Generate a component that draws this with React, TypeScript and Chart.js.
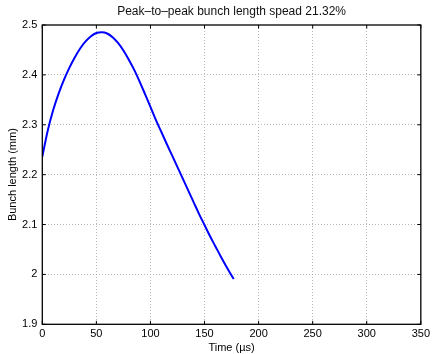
import React, { useEffect, useRef } from "react";
import { Chart, registerables } from "chart.js";

Chart.register(...registerables);

const timeUs = [0, 5, 10, 15, 20, 25, 30, 35, 40, 45, 50, 55, 60, 65, 70, 75, 80, 85, 90, 95, 100, 105, 110, 115, 120, 125, 130, 135, 140, 145, 150, 155, 160, 165, 170, 175, 177];
const bunchLength = [2.236, 2.288, 2.329, 2.362, 2.390, 2.414, 2.435, 2.453, 2.467, 2.4775, 2.484, 2.4855, 2.483, 2.4755, 2.464, 2.449, 2.4305, 2.410, 2.3865, 2.3615, 2.336, 2.310, 2.286, 2.262, 2.2385, 2.215, 2.1915, 2.168, 2.1445, 2.121, 2.099, 2.077, 2.0565, 2.036, 2.0165, 1.998, 1.991];
const xTicks = [0, 50, 100, 150, 200, 250, 300, 350];
const yTicks = [1.9, 2.0, 2.1, 2.2, 2.3, 2.4, 2.5];
const titleText = "Peak\u2013to\u2013peak bunch length spead 21.32%";
const xLabel = "Time (\u00b5s)";
const yLabel = "Bunch length (mm)";

const FONT = "'Liberation Sans', Helvetica, Arial, sans-serif";

const framePlugin = {
  id: "frame",
  afterDraw(chart: any) {
    const { ctx, chartArea } = chart;
    const { left, right, top, bottom } = chartArea;
    const xs = chart.scales.x;
    const ys = chart.scales.y;
    ctx.save();
    ctx.strokeStyle = "#000";
    ctx.lineWidth = 1.3;
    ctx.strokeRect(left, top, right - left, bottom - top);
    ctx.lineWidth = 1;
    const t = 3.5;
    ctx.beginPath();
    xTicks.forEach((v) => {
      const px = xs.getPixelForValue(v);
      ctx.moveTo(px, bottom);
      ctx.lineTo(px, bottom - t);
      ctx.moveTo(px, top);
      ctx.lineTo(px, top + t);
    });
    yTicks.forEach((v) => {
      const py = ys.getPixelForValue(v);
      ctx.moveTo(left, py);
      ctx.lineTo(left + t, py);
      ctx.moveTo(right, py);
      ctx.lineTo(right - t, py);
    });
    ctx.stroke();
    ctx.restore();
  },
};

export default function App() {
  const ref = useRef<HTMLCanvasElement>(null);
  useEffect(() => {
    document.body.style.margin = "0";
    const canvas = ref.current!;
    const data = timeUs.map((t, i) => ({ x: t, y: bunchLength[i] }));
    const chart = new Chart(canvas, {
      type: "line",
      data: {
        datasets: [
          {
            data,
            borderColor: "#0000ff",
            borderWidth: 2,
            pointRadius: 0,
            cubicInterpolationMode: "monotone",
            fill: false,
          },
        ],
      },
      options: {
        animation: false,
        responsive: false,
        maintainAspectRatio: false,
        layout: { padding: { left: 0, right: 10.7, top: 0, bottom: 0 } },
        plugins: {
          legend: { display: false },
          tooltip: { enabled: false },
          title: {
            display: true,
            fullSize: false,
            text: titleText,
            color: "#111",
            font: { family: FONT, size: 12, weight: "normal" as any },
            padding: { top: 4.6, bottom: 6.0 },
          },
        },
        scales: {
          x: {
            type: "linear",
            min: 0,
            max: 350,
            afterBuildTicks: (s: any) => {
              s.ticks = xTicks.map((v) => ({ value: v }));
            },
            afterFit: (s: any) => {
              s.height = 29.7;
            },
            ticks: {
              color: "#000",
              font: { family: FONT, size: 11 },
              padding: 3,
              maxRotation: 0,
              autoSkip: false,
              callback: (v: any) => String(v),
            },
            grid: {
              color: (c: any) => (c.tick && (c.tick.value === 0 || c.tick.value === 350) ? "rgba(0,0,0,0)" : "#b8b8b8"),
              lineWidth: 1,
              drawTicks: false,
            },
            border: { display: false, dash: [1, 2] },
            title: {
              display: true,
              text: xLabel,
              color: "#000",
              font: { family: FONT, size: 11 },
              padding: { top: 0, bottom: -1 },
            },
          },
          y: {
            type: "linear",
            min: 1.9,
            max: 2.5,
            afterBuildTicks: (s: any) => {
              s.ticks = yTicks.map((v) => ({ value: v }));
            },
            afterFit: (s: any) => {
              s.width = 42.3;
            },
            ticks: {
              color: "#000",
              font: { family: FONT, size: 11 },
              padding: 5,
              autoSkip: false,
              callback: (v: any) => {
                const n = Math.round(v * 10) / 10;
                return n === 2 ? "2" : String(n);
              },
            },
            grid: {
              color: (c: any) => (c.tick && (Math.abs(c.tick.value - 1.9) < 1e-6 || Math.abs(c.tick.value - 2.5) < 1e-6) ? "rgba(0,0,0,0)" : "#b8b8b8"),
              lineWidth: 1,
              drawTicks: false,
            },
            border: { display: false, dash: [1, 2] },
            title: {
              display: true,
              text: yLabel,
              color: "#000",
              font: { family: FONT, size: 11 },
              padding: { top: 6, bottom: 0 },
            },
          },
        },
      },
      plugins: [framePlugin],
    });
    return () => chart.destroy();
  }, []);
  return (
    <div style={{ width: 433, height: 354, background: "#fff" }}>
      <canvas ref={ref} width={433} height={354} style={{ display: "block" }} />
    </div>
  );
}
